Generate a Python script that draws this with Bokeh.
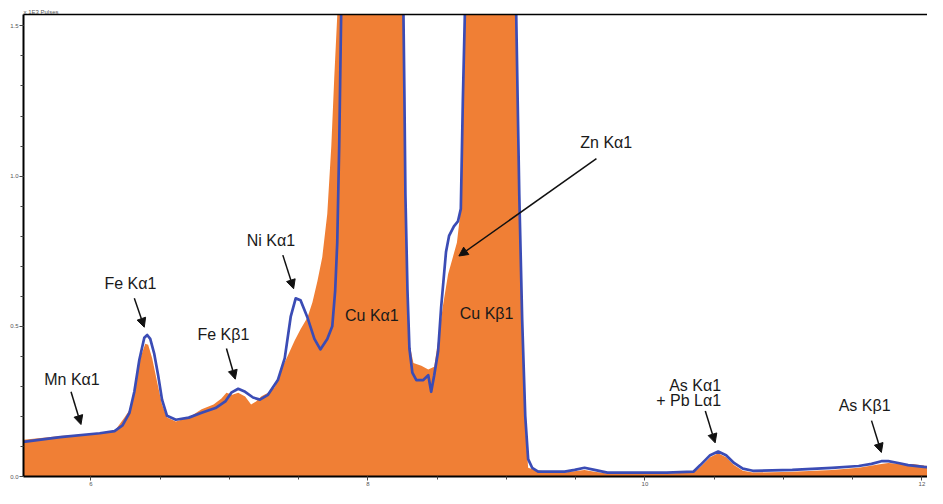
from bokeh.plotting import figure
from bokeh.models import (ColumnDataSource, SingleIntervalTicker, FixedTicker, LinearAxis,
                          PrintfTickFormatter, Arrow, NormalHead)
from bokeh.core.properties import value
from bokeh.embed import file_html
from bokeh.resources import INLINE

# ---- data (energy in keV, intensity in 10^3 pulses) ----
blue_kev = [5.514, 5.779, 6.064, 6.171, 6.229, 6.279, 6.314, 6.35, 6.386, 6.407, 6.429, 6.457,
            6.486, 6.514, 6.55, 6.614, 6.707, 6.8, 6.9, 6.971, 7.014, 7.064, 7.114, 7.171, 7.221,
            7.279, 7.35, 7.4, 7.443, 7.479, 7.514, 7.564, 7.614, 7.657, 7.707, 7.743, 7.764, 7.779,
            7.793, 7.807, 8.05, 8.257, 8.264, 8.271, 8.286, 8.3, 8.321, 8.35, 8.4, 8.436, 8.457,
            8.479, 8.507, 8.529, 8.564, 8.586, 8.621, 8.65, 8.671, 8.686, 8.7, 8.9, 9.071, 9.093,
            9.114, 9.136, 9.157, 9.186, 9.229, 9.3, 9.421, 9.493, 9.564, 9.636, 9.729, 9.9, 10.157,
            10.35, 10.4, 10.471, 10.529, 10.586, 10.643, 10.707, 10.779, 11.064, 11.35, 11.543,
            11.636, 11.707, 11.757, 11.829, 11.9, 12.014, 12.086]
blue_counts = [0.115, 0.131, 0.144, 0.151, 0.170, 0.212, 0.282, 0.388, 0.462, 0.471, 0.458, 0.410,
               0.337, 0.256, 0.202, 0.189, 0.196, 0.212, 0.228, 0.250, 0.279, 0.292, 0.282, 0.263,
               0.256, 0.272, 0.321, 0.394, 0.532, 0.593, 0.587, 0.529, 0.458, 0.423, 0.458, 0.500,
               0.619, 0.779, 1.099, 1.535, 6.0, 1.535, 1.260, 0.939, 0.619, 0.426, 0.346, 0.321,
               0.321, 0.337, 0.282, 0.337, 0.417, 0.564, 0.747, 0.801, 0.833, 0.849, 0.891, 1.260,
               1.535, 4.0, 1.535, 0.939, 0.522, 0.202, 0.058, 0.029, 0.016, 0.016, 0.016, 0.022,
               0.029, 0.022, 0.013, 0.013, 0.013, 0.016, 0.038, 0.071, 0.083, 0.071, 0.045, 0.026,
               0.019, 0.022, 0.029, 0.035, 0.042, 0.051, 0.051, 0.045, 0.038, 0.032, 0.029]

fill_kev = [5.514, 5.779, 6.064, 6.171, 6.243, 6.279, 6.321, 6.357, 6.393, 6.414, 6.443, 6.479,
            6.514, 6.55, 6.614, 6.707, 6.8, 6.886, 6.943, 6.979, 7.021, 7.064, 7.114, 7.157, 7.193,
            7.229, 7.279, 7.329, 7.371, 7.421, 7.471, 7.514, 7.564, 7.6, 7.636, 7.671, 7.707, 7.736,
            7.757, 7.779, 8.05, 8.257, 8.271, 8.286, 8.3, 8.329, 8.386, 8.436, 8.479, 8.507, 8.543,
            8.579, 8.614, 8.643, 8.671, 8.686, 8.7, 8.9, 9.071, 9.093, 9.114, 9.136, 9.157, 9.207,
            9.3, 9.421, 9.564, 9.636, 9.729, 10.157, 10.35, 10.4, 10.471, 10.529, 10.586, 10.643,
            10.707, 10.779, 11.064, 11.35, 11.543, 11.707, 11.757, 11.843, 11.936, 12.086]
fill_counts = [0.122, 0.135, 0.144, 0.151, 0.196, 0.221, 0.298, 0.394, 0.442, 0.439, 0.394, 0.314,
               0.240, 0.196, 0.183, 0.196, 0.224, 0.240, 0.260, 0.279, 0.272, 0.279, 0.266, 0.240,
               0.250, 0.266, 0.279, 0.298, 0.353, 0.401, 0.452, 0.490, 0.529, 0.580, 0.651, 0.731,
               0.875, 1.099, 1.324, 1.535, 6.0, 1.535, 0.939, 0.619, 0.442, 0.378, 0.369, 0.356,
               0.365, 0.452, 0.571, 0.673, 0.731, 0.779, 0.891, 1.260, 1.535, 4.0, 1.535, 0.939,
               0.522, 0.170, 0.029, 0.022, 0.016, 0.013, 0.022, 0.016, 0.010, 0.010, 0.013, 0.032,
               0.064, 0.077, 0.064, 0.038, 0.019, 0.013, 0.016, 0.022, 0.029, 0.042, 0.045, 0.042,
               0.042, 0.032]

label_text = ["Mn K\u03b11", "Fe K\u03b11", "Fe K\u03b21", "Ni K\u03b11", "Cu K\u03b11",
              "Cu K\u03b21", "Zn K\u03b11", "As K\u03b21"]
label_x = [5.864, 6.286, 6.957, 7.300, 8.029, 8.857, 9.721, 11.586]
label_y = [0.324, 0.644, 0.474, 0.785, 0.535, 0.542, 1.112, 0.237]

as_text = ["As K\u03b11", "+ Pb L\u03b11"]
as_x = [10.55, 10.55]
as_y = [0.304, 0.253]

arrow_x0 = [5.857, 6.314, 6.979, 7.386, 9.650, 10.436, 11.636]
arrow_y0 = [0.282, 0.593, 0.426, 0.737, 1.058, 0.218, 0.186]
arrow_x1 = [5.929, 6.386, 7.043, 7.464, 8.657, 10.507, 11.707]
arrow_y1 = [0.173, 0.497, 0.324, 0.625, 0.734, 0.112, 0.080]

x_major = 2
y_major = 0.5

ORANGE = "#F07F35"
BLUE = "#3B4CB5"
FONT = "Liberation Sans"

p = figure(width=927, height=488, x_range=(5.514, 12.04), y_range=(0, 1.538),
           output_backend="svg", toolbar_location=None, title="x 1E3 Pulses")
p.min_border = 0
p.min_border_left = 23
p.min_border_top = 14
p.min_border_bottom = 12
p.min_border_right = 0
p.outline_line_color = None
p.xgrid.visible = False
p.ygrid.visible = False

p.title.text_font = FONT
p.title.text_font_size = "6px"
p.title.text_font_style = "normal"
p.title.text_color = "#555555"
p.title.standoff = 0
p.title.align = "left"

p.varea(x=fill_kev, y1=0, y2=fill_counts, fill_color=ORANGE)
p.line(blue_kev, blue_counts, line_color=BLUE, line_width=2.7, line_join="round")

for ax in (p.xaxis[0], p.yaxis[0]):
    ax.axis_line_color = "black"
    ax.axis_line_width = 2
    ax.major_tick_in = 0
    ax.major_tick_out = 4
    ax.minor_tick_in = 0
    ax.minor_tick_out = 3
    ax.major_tick_line_color = "#444444"
    ax.minor_tick_line_color = "#444444"
    ax.major_label_text_font = FONT
    ax.major_label_text_font_size = "6px"
    ax.major_label_text_color = "#555555"
    ax.major_label_standoff = 1

p.xaxis.ticker = SingleIntervalTicker(interval=x_major, num_minor_ticks=4)
p.yaxis.ticker = SingleIntervalTicker(interval=y_major, num_minor_ticks=5)
p.yaxis.formatter = PrintfTickFormatter(format="%.1f")

top = LinearAxis(ticker=FixedTicker(ticks=[]), axis_line_color="black", axis_line_width=1.5,
                 major_tick_line_color=None, minor_tick_line_color=None)
p.add_layout(top, "above")

src = ColumnDataSource(dict(x=label_x, y=label_y, t=label_text))
p.text(x="x", y="y", text="t", source=src, text_font=value(FONT), text_font_size="16px",
       text_align="center", text_baseline="middle", text_color="#1a1a1a")
src2 = ColumnDataSource(dict(x=as_x, y=as_y, t=as_text))
p.text(x="x", y="y", text="t", source=src2, text_font=value(FONT), text_font_size="16px",
       text_align="right", text_baseline="middle", text_color="#1a1a1a")

for x0, y0, x1, y1 in zip(arrow_x0, arrow_y0, arrow_x1, arrow_y1):
    p.add_layout(Arrow(x_start=x0, y_start=y0, x_end=x1, y_end=y1, line_width=1.5,
                       line_color="#111111",
                       end=NormalHead(size=9, fill_color="#111111", line_color="#111111")))

open("out.html", "w").write(file_html(p, INLINE))
